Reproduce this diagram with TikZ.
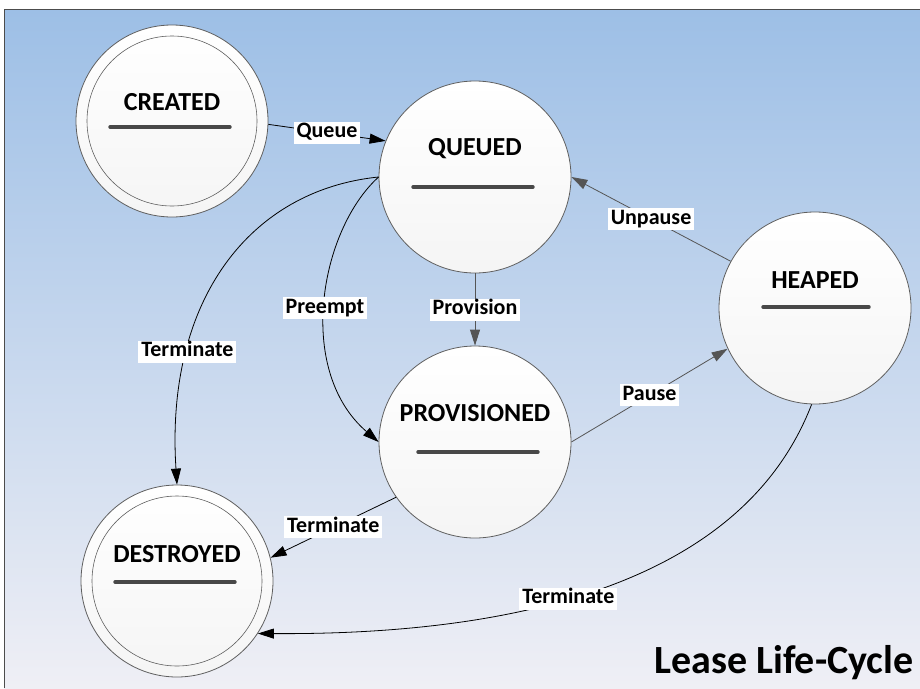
\documentclass[tikz,border=0pt]{standalone}
\usepackage{fontspec}
\setmainfont{Carlito}
\usetikzlibrary{arrows.meta}
\definecolor{bgtop}{RGB}{157,191,230}
\definecolor{bgbot}{RGB}{239,239,245}
\definecolor{rim}{RGB}{95,95,95}
\definecolor{bar}{RGB}{72,72,72}
\definecolor{wire}{RGB}{85,85,85}
\begin{document}
\begin{tikzpicture}[x=1pt,y=-1pt,
  state/.style={circle, draw=rim, line width=0.8pt, minimum size=192pt, inner sep=0pt,
    top color=white, bottom color=gray!8},
  ring/.style={circle, draw=rim, line width=0.6pt, minimum size=170pt, inner sep=0pt},
  stname/.style={anchor=base, font=\fontsize{26}{30}\selectfont\bfseries},
  divider/.style={draw=bar, line width=3.4pt, line cap=round},
  tag/.style={fill=white, inner xsep=3pt, inner ysep=0pt, text height=16pt, text depth=6pt,
    font=\fontsize{22}{26}\selectfont\bfseries},
  link/.style={draw=black, line width=0.8pt, -{Triangle[length=16pt,width=10pt]}},
  glink/.style={draw=wire, line width=0.8pt, -{Triangle[length=16pt,width=10pt]}}]

% canvas and backdrop
\useasboundingbox (0,0) rectangle (920,688);
\fill[white] (0,0) rectangle (920,688);
\shade[top color=bgtop, bottom color=bgbot] (4,9) rectangle (920,688);
\draw[gray!60!black, line width=1pt] (920,9) -- (4,9) -- (4,688);

% states
\node[state] (created) at (172,121) {};
\node[ring] (created-in) at (172,121) {};
\node[state] (queued) at (475,177) {};
\node[state] (provisioned) at (475,442) {};
\node[state] (heaped) at (815,308) {};
\node[state] (destroyed) at (177,581) {};
\node[ring] (destroyed-in) at (177,581) {};

% state names with compartment bars
\node[stname] (created-t) at (172,110) {CREATED};
\draw[divider] (110,127) -- (230,127);
\node[stname] (queued-t) at (475,155) {QUEUED};
\draw[divider] (413,187) -- (533,187);
\node[stname] (provisioned-t) at (475,421) {PROVISIONED};
\draw[divider] (418,452) -- (538,452);
\node[stname] (heaped-t) at (815,288) {HEAPED};
\draw[divider] (763,307) -- (869,307);
\node[stname] (destroyed-t) at (177,562) {DESTROYED};
\draw[divider] (115,582) -- (235,582);

% transitions
\draw[link] (created.-2) -- node[tag] {Queue} (queued.158);
\draw[glink] (queued.-90) -- node[tag] {Provision} (provisioned.90);
\draw[glink] (provisioned.0) -- node[tag] {Pause} (heaped.205);
\draw[glink] (heaped.151) -- node[tag] {Unpause} (queued.0);
\draw[link] (provisioned.215) -- node[tag] {Terminate} (destroyed.14);
\draw[link] (queued.180) .. controls (250,190) and (165,300) .. node[tag, pos=0.73] {Terminate} (destroyed.90);
\draw[link] (queued.180) .. controls (320,230) and (295,370) .. node[tag, pos=0.52] {Preempt} (provisioned.180);
\draw[link] (heaped.-92) .. controls (740,590) and (500,635) .. node[tag, pos=0.55] {Terminate} (destroyed.-33);

% title
\node[anchor=base, font=\fontsize{40}{46}\selectfont\bfseries] (title) at (784,673) {Lease Life-Cycle};
\end{tikzpicture}
\end{document}
